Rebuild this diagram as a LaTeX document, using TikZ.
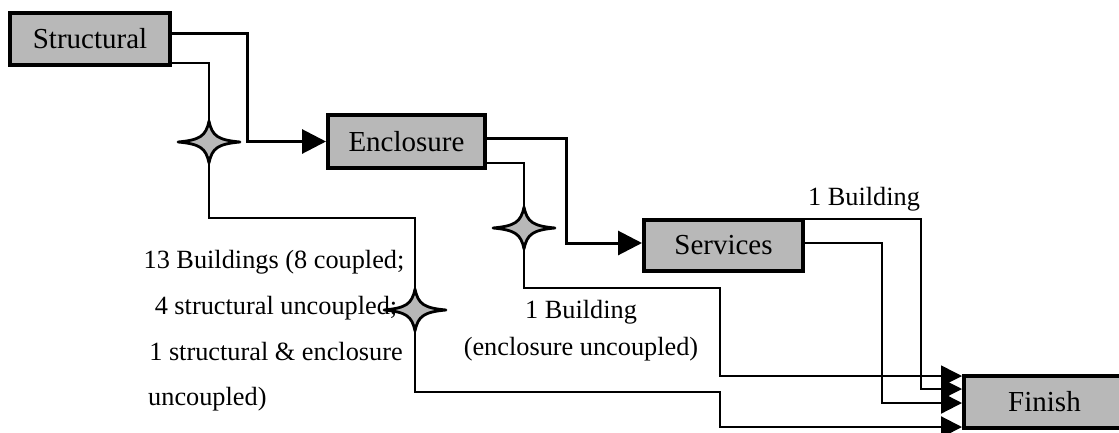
\documentclass[tikz,border=0pt]{standalone}
\usepackage{fontspec}
\setmainfont{Liberation Serif}
\usetikzlibrary{arrows.meta,calc}

\tikzset{
  stage/.style={draw=black, line width=4pt, fill=black!28, minimum height=52pt,
    inner sep=0pt, font=\fontsize{29}{30}\selectfont},
  flow/.style={line width=3pt, line join=miter, -{Triangle[length=24pt,width=24pt]}},
  side/.style={line width=2.2pt, line join=miter, -{Triangle[length=21pt,width=21pt]}},
  thin/.style={line width=1.6pt, line join=miter, -{Triangle[length=21pt,width=21pt]}},
  note/.style={inner sep=0pt, anchor=base, font=\fontsize{26.3}{30}\selectfont},
  sparkle/.pic={
    \path[draw=black, line width=2.8pt, fill=black!28, line join=round]
      (31,0) .. controls (9,2) and (3,6) .. (0,21)
      .. controls (-3,6) and (-9,2) .. (-31,0)
      .. controls (-9,-2) and (-3,-6) .. (0,-21)
      .. controls (3,-6) and (9,-2) .. (31,0) -- cycle;
  }
}

\begin{document}
\begin{tikzpicture}[x=1pt, y=-1pt]
  \useasboundingbox (0,0) rectangle (1119,432);

  % stages
  \node[stage, minimum width=160pt] (s) at (90,39) {Structural};
  \node[stage, minimum width=157pt, minimum height=53pt] (e) at (406.5,141.5) {Enclosure};
  \node[stage, minimum width=159pt, minimum height=51pt] (v) at (723.5,245.5) {Services};
  \begin{scope}
    \clip (0,0) rectangle (1119,432);
    \node[stage, minimum width=161pt] (f) at (1044.5,402) {Finish};
  \end{scope}

  % uncoupling points
  \coordinate (k1) at (209,142);
  \coordinate (k2) at (524,228);
  \coordinate (k3) at (415,310);

  % main sequence
  \draw[flow] ([yshift=6pt]s.east) -- ++(75,0) |- (e.west);
  \draw[flow] ([yshift=3.5pt]e.east) -- ++(79,0) |- ([yshift=2.5pt]v.west);
  \draw[side] ([yshift=2.5pt]v.east) -- ++(77,0) |- ([yshift=-1pt]f.west);

  % bypass routes to finish
  \draw[side] ([yshift=-24pt]s.east) -| (k1) -- (209,218) -| (k3)
    -- (415,392) -| (720,427) -- ([yshift=-25pt]f.west);
  \draw[thin] ([yshift=-21.5pt]e.east) -| (k2) -- (524,288) -| (720,376)
    -- ([yshift=26pt]f.west);
  \draw[thin] ([yshift=26.5pt]v.east) -- ++(116,0) |- ([yshift=13pt]f.west);

  \pic at (k1) {sparkle};
  \pic at (k2) {sparkle};
  \pic at (k3) {sparkle};

  % labels
  \node[note] (l1) at (864,205) {1 Building};
  \node[note] (l2) at (581,318) {1 Building};
  \node[note] (l3) at (581,355) {(enclosure uncoupled)};
  \node[note] (m1) at (274,268) {13 Buildings (8 coupled;};
  \node[note] (m2) at (276,314) {4 structural uncoupled;};
  \node[note] (m3) at (276,360) {1 structural \& enclosure};
  \node[note, anchor=base west] (m4) at (148,405) {uncoupled)};
\end{tikzpicture}
\end{document}
